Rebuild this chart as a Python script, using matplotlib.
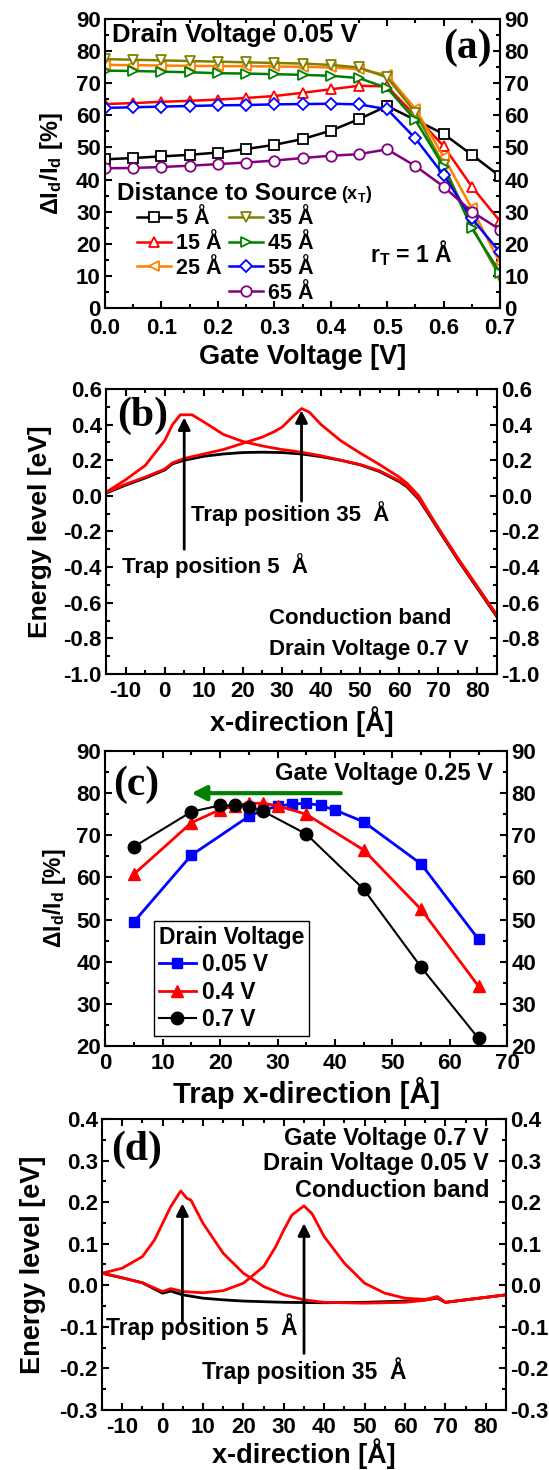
"""Trap position study: four stacked panels (a)-(d)."""

import matplotlib

matplotlib.use("Agg")
import matplotlib.pyplot as plt
from matplotlib.lines import Line2D
from matplotlib.ticker import FormatStrFormatter, MultipleLocator

plt.rcParams["font.family"] = ["Liberation Sans", "DejaVu Sans"]
plt.rcParams["font.weight"] = "bold"
plt.rcParams["axes.labelweight"] = "bold"
plt.rcParams["mathtext.default"] = "regular"
plt.rcParams["axes.unicode_minus"] = False

# ---- panel (a): dI/I vs gate voltage, drain 0.05 V ----
gate_v = [0.0, 0.05, 0.1, 0.15, 0.2, 0.25, 0.3, 0.35, 0.4, 0.45, 0.5, 0.55, 0.6, 0.65, 0.7]
gate_v_5 = [0.0, 0.05, 0.1, 0.15, 0.2, 0.25, 0.3, 0.35, 0.4, 0.45, 0.5, 0.6, 0.65, 0.7]
dist_5 = [46.3, 46.7, 47.2, 47.7, 48.4, 49.5, 50.8, 52.6, 55.2, 58.8, 62.9, 54.2, 47.7, 41.0]
dist_15 = [63.5, 63.8, 64.2, 64.5, 64.9, 65.4, 66.0, 67.0, 68.1, 69.2, 69.0, 59.8, 50.4, 37.8, 27.0]
dist_25 = [75.7, 75.6, 75.5, 75.4, 75.3, 75.3, 75.2, 75.1, 74.9, 74.4, 72.5, 62.0, 47.1, 31.0, 14.0]
dist_35 = [77.5, 77.3, 77.1, 76.9, 76.7, 76.5, 76.3, 76.1, 75.7, 74.9, 71.8, 60.8, 44.5, 25.5, 9.5]
dist_45 = [73.9, 73.8, 73.6, 73.4, 73.1, 73.0, 72.8, 72.6, 72.3, 71.6, 68.5, 58.5, 44.0, 24.8, 11.0]
dist_55 = [62.3, 62.5, 62.7, 62.9, 63.1, 63.2, 63.4, 63.5, 63.6, 63.4, 61.9, 52.8, 41.4, 27.9, 17.3]
dist_65 = [43.5, 43.6, 43.9, 44.3, 44.8, 45.3, 45.9, 46.7, 47.4, 47.9, 49.4, 44.2, 37.8, 30.0, 24.4]
dist_labels = ["5 Å", "15 Å", "25 Å", "35 Å", "45 Å", "55 Å", "65 Å"]

# ---- panel (b): conduction band, drain 0.7 V ----
xb_ref = [-15, -10, -5, 0, 2, 5, 10, 15, 20, 25, 30, 35, 40, 45, 50, 55, 60, 62, 65, 68, 70, 75, 80, 85]
eb_ref = [0.015, 0.06, 0.10, 0.145, 0.18, 0.20, 0.222, 0.235, 0.243, 0.245, 0.243, 0.235,
          0.22, 0.20, 0.174, 0.136, 0.08, 0.05, -0.02, -0.12, -0.19, -0.36, -0.52, -0.68]
xb_t5 = [-15, -10, -5, 0, 2, 4, 7, 10, 15, 20, 25, 30, 35, 40, 45, 50, 55, 60, 62, 65, 68, 70, 75, 80, 85]
eb_t5 = [0.02, 0.09, 0.17, 0.31, 0.40, 0.455, 0.455, 0.415, 0.345, 0.305, 0.28, 0.26, 0.245,
         0.225, 0.20, 0.176, 0.14, 0.085, 0.055, -0.015, -0.115, -0.185, -0.355, -0.515, -0.675]
xb_t35 = [-15, -10, -5, 0, 2, 5, 10, 15, 20, 25, 28, 30, 33, 35, 37, 40, 45, 50, 55, 60, 62, 65,
          68, 70, 75, 80, 85]
eb_t35 = [0.02, 0.065, 0.105, 0.15, 0.185, 0.21, 0.235, 0.26, 0.295, 0.33, 0.36, 0.385, 0.45,
          0.49, 0.47, 0.40, 0.31, 0.24, 0.175, 0.105, 0.07, 0.0, -0.11, -0.18, -0.35, -0.51, -0.67]

# ---- panel (c): dI/I vs trap position, gate 0.25 V ----
xc_005 = [5, 15, 25, 27.5, 30, 32.5, 35, 37.5, 40, 45, 55, 65]
yc_005 = [49.5, 65.3, 74.5, 76.0, 76.9, 77.4, 77.6, 77.1, 76.0, 73.2, 63.2, 45.3]
xc_04 = [5, 15, 20, 22.5, 25, 27.5, 30, 35, 45, 55, 65]
yc_04 = [60.8, 73.0, 76.1, 77.0, 77.6, 77.6, 77.0, 75.0, 66.5, 52.4, 34.2]
xc_07 = [5, 15, 20, 22.5, 25, 27.5, 35, 45, 55, 65]
yc_07 = [67.3, 75.6, 77.1, 77.1, 76.7, 75.7, 70.3, 57.2, 38.7, 21.8]
drain_labels = ["0.05 V", "0.4 V", "0.7 V"]

# ---- panel (d): conduction band, gate 0.7 V, drain 0.05 V ----
xd_ref = [-15, -10, -5, 0, 2, 5, 10, 15, 20, 30, 40, 50, 60, 65, 68, 70, 75, 80, 85]
ed_ref = [0.029, 0.018, 0.006, -0.019, -0.014, -0.023, -0.031, -0.035, -0.038, -0.041, -0.042,
          -0.041, -0.038, -0.035, -0.031, -0.041, -0.035, -0.029, -0.023]
xd_t5 = [-15, -10, -5, -2, 0, 2, 4.5, 6, 7, 10, 15, 20, 25, 30, 35, 40, 50, 60, 65, 68, 70, 75, 80, 85]
ed_t5 = [0.029, 0.041, 0.069, 0.109, 0.149, 0.189, 0.227, 0.209, 0.205, 0.149, 0.077, 0.029,
         -0.003, -0.023, -0.035, -0.041, -0.043, -0.041, -0.036, -0.029, -0.041, -0.035, -0.029, -0.023]
xd_t35 = [-15, -10, -5, 0, 2, 5, 10, 15, 20, 25, 28, 30, 32, 35, 37, 40, 45, 50, 55, 60, 65, 68,
          70, 75, 80, 85]
ed_t35 = [0.029, 0.018, 0.006, -0.015, -0.008, -0.015, -0.018, -0.013, 0.005, 0.045, 0.093, 0.133,
          0.169, 0.191, 0.172, 0.117, 0.053, 0.005, -0.019, -0.031, -0.034, -0.027, -0.041, -0.035,
          -0.029, -0.023]


def style_axes(ax, xpad=5):
    for spine in ax.spines.values():
        spine.set_linewidth(1.5)
    ax.tick_params(which="both", direction="in", top=True, right=True, labelright=True,
                   width=1.5, labelsize=16, pad=3)
    ax.tick_params(axis="x", which="both", pad=xpad)
    ax.tick_params(which="major", length=5)
    ax.tick_params(which="minor", length=3)


def panel_letter(ax, x, y, letter):
    ax.text(x, y, letter, transform=ax.transAxes, family="Liberation Serif", fontsize=30,
            fontweight="bold", va="center", ha="left")


fig = plt.figure(figsize=(5.49, 14.70), dpi=100)

# (a)
ax = fig.add_axes([0.1913, 0.7905, 0.7195, 0.1966])
series_a = [
    (gate_v_5, dist_5, "black", "s"),
    (gate_v, dist_15, "#ff0000", "^"),
    (gate_v, dist_25, "#ff8000", "<"),
    (gate_v, dist_35, "#808000", "v"),
    (gate_v, dist_45, "#008000", ">"),
    (gate_v, dist_55, "#0000ff", "D"),
    (gate_v, dist_65, "#800080", "o"),
]
handles = []
for (xs, ys, color, marker), label in zip(series_a, dist_labels):
    ms = 6 if marker == "D" else 7.5
    (h,) = ax.plot(xs, ys, color=color, marker=marker, mfc="white", mec=color, ms=ms,
                   mew=1.3, lw=1.8, label=label)
    handles.append(h)
blank = Line2D([], [], linestyle="none", label=" ")
order = handles[:3] + [blank] + handles[3:]
ax.legend(handles=order, labels=[h.get_label() for h in order], ncol=2, loc="upper left",
          bbox_to_anchor=(0.08, 0.345), borderaxespad=0, borderpad=0, frameon=False,
          fontsize=15.5, handlelength=1.6, handletextpad=0.25, columnspacing=0.3,
          labelspacing=0.18)
title = ax.text(0.03, 0.395, "Distance to Source", transform=ax.transAxes, fontsize=17.5,
                va="center")
ax.annotate("(x$_T$)", xy=(1, 0), xycoords=title, xytext=(3, 0), textcoords="offset points",
            fontsize=13, va="bottom")
ax.text(0.67, 0.19, "r$_T$ = 1 Å", transform=ax.transAxes, fontsize=16.5, va="center")
ax.text(0.017, 0.945, "Drain Voltage 0.05 V", transform=ax.transAxes, fontsize=18.5,
        va="center")
panel_letter(ax, 0.855, 0.90, "(a)")
ax.set_xlim(0, 0.7)
ax.set_ylim(0, 90)
ax.xaxis.set_major_locator(MultipleLocator(0.1))
ax.xaxis.set_minor_locator(MultipleLocator(0.05))
ax.xaxis.set_major_formatter(FormatStrFormatter("%.1f"))
ax.yaxis.set_major_locator(MultipleLocator(10))
ax.yaxis.set_minor_locator(MultipleLocator(5))
style_axes(ax, xpad=7)
ax.set_xlabel("Gate Voltage [V]", fontsize=19.5, labelpad=4)
ax.set_ylabel("ΔI$_d$/I$_d$ [%]", fontsize=17, labelpad=8)

# (b)
ax = fig.add_axes([0.1931, 0.5415, 0.7122, 0.1939])
ax.plot(xb_ref, eb_ref, color="black", lw=2)
ax.plot(xb_t5, eb_t5, color="#ff0000", lw=2)
ax.plot(xb_t35, eb_t35, color="#ff0000", lw=2)
arrow = dict(arrowstyle="-|>", color="black", lw=2, mutation_scale=18, shrinkA=0, shrinkB=0)
ax.annotate("", xy=(5, 0.44), xytext=(5, -0.30), arrowprops=arrow)
ax.annotate("", xy=(35, 0.48), xytext=(35, -0.03), arrowprops=arrow)
ax.text(6.8, -0.10, "Trap position 35  Å", fontsize=16, va="center")
ax.text(-11, -0.39, "Trap position 5  Å", fontsize=16, va="center")
ax.text(26.7, -0.69, "Conduction band", fontsize=16, va="center")
ax.text(26.7, -0.86, "Drain Voltage 0.7 V", fontsize=16, va="center")
panel_letter(ax, 0.028, 0.905, "(b)")
ax.set_xlim(-15, 85)
ax.set_ylim(-1.0, 0.6)
ax.xaxis.set_major_locator(MultipleLocator(10))
ax.xaxis.set_minor_locator(MultipleLocator(5))
ax.yaxis.set_major_locator(MultipleLocator(0.2))
ax.yaxis.set_minor_locator(MultipleLocator(0.1))
ax.yaxis.set_major_formatter(FormatStrFormatter("%.1f"))
style_axes(ax)
ax.set_xlabel("x-direction [Å]", fontsize=19.5, labelpad=3)
ax.set_ylabel("Energy level [eV]", fontsize=19, labelpad=8)

# (c)
ax = fig.add_axes([0.1918, 0.2884, 0.7322, 0.2007])
ax.plot(xc_005, yc_005, color="#0000ff", marker="s", ms=7.5, lw=2, label=drain_labels[0])
ax.plot(xc_04, yc_04, color="#ff0000", marker="^", ms=9, lw=2, label=drain_labels[1])
ax.plot(xc_07, yc_07, color="black", marker="o", ms=9, lw=1.5, label=drain_labels[2])
leg = ax.legend(title="Drain Voltage", loc="lower left", bbox_to_anchor=(0.122, 0.034),
                borderaxespad=0, borderpad=0.2, fontsize=16.5, title_fontsize=16.5,
                handlelength=1.6, handletextpad=0.3, labelspacing=0.2, fancybox=False,
                edgecolor="black", framealpha=1, alignment="left")
leg.get_frame().set_linewidth(1.0)
ax.annotate("", xy=(15, 80), xytext=(41, 80),
            arrowprops=dict(arrowstyle="-|>", color="#008000", lw=3, mutation_scale=22,
                            shrinkA=0, shrinkB=0))
ax.text(67.5, 84.7, "Gate Voltage 0.25 V", fontsize=17, ha="right", va="center")
panel_letter(ax, 0.02, 0.885, "(c)")
ax.set_xlim(0, 70)
ax.set_ylim(20, 90)
ax.xaxis.set_major_locator(MultipleLocator(10))
ax.xaxis.set_minor_locator(MultipleLocator(5))
ax.yaxis.set_major_locator(MultipleLocator(10))
ax.yaxis.set_minor_locator(MultipleLocator(5))
style_axes(ax)
ax.set_xlabel("Trap x-direction [Å]", fontsize=21, labelpad=2)
ax.set_ylabel("ΔI$_d$/I$_d$ [%]", fontsize=16.5, labelpad=6)

# (d)
ax = fig.add_axes([0.1858, 0.0408, 0.7359, 0.198])
ax.plot(xd_ref, ed_ref, color="black", lw=2)
ax.plot(xd_t5, ed_t5, color="#ff0000", lw=2)
ax.plot(xd_t35, ed_t35, color="#ff0000", lw=2)
ax.annotate("", xy=(4.9, 0.197), xytext=(4.9, -0.091), arrowprops=arrow)
ax.annotate("", xy=(35, 0.149), xytext=(35, -0.164), arrowprops=arrow)
ax.text(-13.9, -0.10, "Trap position 5  Å", fontsize=16.5, va="center")
ax.text(9.8, -0.204, "Trap position 35  Å", fontsize=16.5, va="center")
ax.text(80.8, 0.353, "Gate Voltage 0.7 V", fontsize=17, ha="right", va="center")
ax.text(80.8, 0.292, "Drain Voltage 0.05 V", fontsize=17, ha="right", va="center")
ax.text(80.8, 0.228, "Conduction band", fontsize=17, ha="right", va="center")
panel_letter(ax, 0.022, 0.895, "(d)")
ax.set_xlim(-15, 85)
ax.set_ylim(-0.3, 0.4)
ax.xaxis.set_major_locator(MultipleLocator(10))
ax.xaxis.set_minor_locator(MultipleLocator(5))
ax.yaxis.set_major_locator(MultipleLocator(0.1))
ax.yaxis.set_minor_locator(MultipleLocator(0.05))
ax.yaxis.set_major_formatter(FormatStrFormatter("%.1f"))
style_axes(ax)
ax.set_xlabel("x-direction [Å]", fontsize=19.5, labelpad=0)
ax.set_ylabel("Energy level [eV]", fontsize=19.5, labelpad=10)

fig.savefig("out.png", dpi=100)
plt.close(fig)
